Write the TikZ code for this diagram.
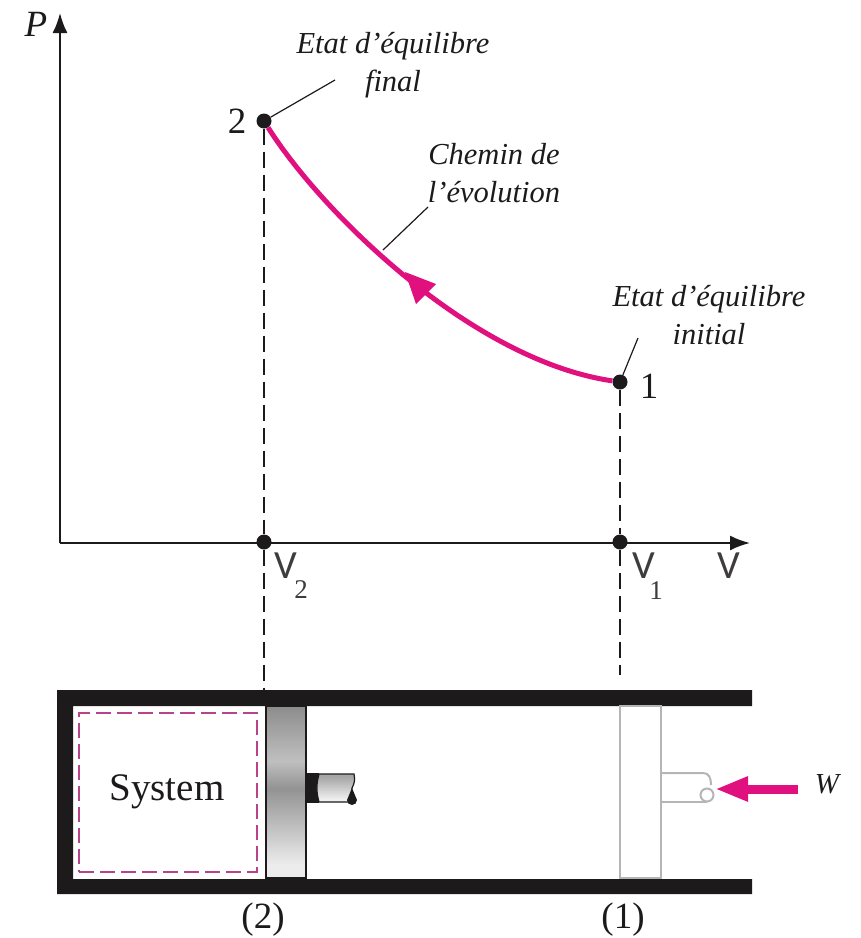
\documentclass[tikz,border=0pt]{standalone}
\usepackage{fontspec}
\setmainfont{Liberation Serif}
\newfontfamily\vfont{Carlito}
\usetikzlibrary{arrows.meta}
\definecolor{mag}{HTML}{E0107F}
\definecolor{dashmag}{HTML}{B8428C}
\definecolor{ink}{HTML}{1C1A1B}
\definecolor{pale}{HTML}{B5B5B5}
\pgfdeclareverticalshading{pistonshade}{100bp}{
  color(0bp)=(gray!15); color(25bp)=(gray!15); color(29bp)=(gray!15);
  color(51bp)=(gray!85); color(59bp)=(gray!50); color(75bp)=(gray!90); color(100bp)=(gray!90)}
\pgfdeclareverticalshading{rodshade}{100bp}{
  color(0bp)=(gray!12); color(30bp)=(gray!12); color(70bp)=(gray!70); color(100bp)=(gray!70)}
\tikzset{
  axisline/.style={draw=ink,line width=1.9pt,-{Latex[length=20pt,width=15pt]}},
  leader/.style={draw=ink,line width=1.2pt},
  guide/.style={draw=ink,line width=1.2pt,dash pattern=on 16pt off 7pt},
  dotn/.style={circle,fill=ink,inner sep=0pt,minimum size=15pt},
  note/.style={font=\fontsize{30.5}{37.5}\selectfont\itshape,align=center,text=ink,inner sep=0pt},
  num/.style={font=\fontsize{37}{40}\selectfont,text=ink,inner sep=0pt},
  vlab/.style={font=\fontsize{40}{42}\selectfont\vfont,text=ink!85,inner sep=0pt},
  sub/.style={font=\fontsize{27}{28}\selectfont,text=ink!85,inner sep=0pt},
  wall/.style={fill=ink,draw=none},
  oldpart/.style={draw=pale,line width=2pt},
}
\begin{document}
\begin{tikzpicture}[x=1pt,y=-1pt]
\useasboundingbox (0,0) rectangle (861,938);
% points
\coordinate (origin) at (60,543);
\coordinate (ytip) at (60,13);
\coordinate (xtip) at (750,543);
\node[dotn] (p2) at (264,121) {};
\node[dotn] (p1) at (620,382) {};
\node[dotn] (v2) at (264,542) {};
\node[dotn] (v1) at (620,542) {};
\coordinate (cyl2) at (264,690);
\coordinate (cyl1) at (620,675);
% axes
\draw[axisline] (origin) -- (ytip);
\draw[axisline] (origin) -- (xtip);
% guides
\draw[guide] (p2) -- (v2);
\draw[guide] (v2) -- (cyl2);
\draw[guide] (p1) -- (v1);
\draw[guide] (v1) -- (cyl1);
% process curve
\draw[mag,line width=5pt] (p1) .. controls (470,360) and (320,210) .. (p2);
\coordinate (tipA) at (405,272);
\fill[mag] (tipA) -- (436,284) -- (416,304) -- cycle;
% labels
\node[font=\fontsize{37}{40}\selectfont\itshape,text=ink,inner sep=0pt] (lP) at (36,24) {P};
\node[num] (l2) at (237,121) {2};
\node[num] (l1) at (649,386) {1};
\node[note] (nfinal) at (393,65) {Etat d'équilibre\\final};
\node[note] (npath) at (494,173) {Chemin de\\l'évolution};
\node[note] (ninit) at (709,315) {Etat d'équilibre\\initial};
\coordinate (a2) at (335,80);
\coordinate (ap) at (428,207);
\coordinate (bp) at (383,250);
\coordinate (a1) at (638,338);
\draw[leader] (p2) -- (a2);
\draw[leader] (bp) -- (ap);
\draw[leader] (p1) -- (a1);
\node[vlab] (lV2) at (286,566) {V};
\node[sub] (s2) at (301,590) {2};
\node[vlab] (lV1) at (644,566) {V};
\node[sub] (s1) at (656,591) {1};
\node[vlab] (lV) at (729,566) {V};
% cylinder
\fill[wall] (57,690) -- (752,690) -- (752,706) -- (73,706) -- (73,879) -- (752,879) -- (752,894) -- (57,894) -- cycle;
\node[draw=dashmag,line width=1.8pt,dash pattern=on 15pt off 6pt,minimum width=178pt,minimum height=159pt,inner sep=0pt] (sysbox) at (168,792.5) {};
\node[font=\fontsize{39}{42}\selectfont,text=ink,inner sep=0pt] (sys) at (167,792) {System};
% piston 2
\draw[ink,line width=1.8pt,shading=pistonshade] (266,706) rectangle (306,878);
\fill[ink] (307,773) rectangle (319,803);
\draw[ink,line width=1.2pt,shading=rodshade] (319,774) -- (354,774) to[bend left=20] (352,788) -- (350,802) -- (319,802) to[bend left=15] (319,774);
\fill[ink] (352,788) -- (357,800) arc[start angle=0,end angle=180,radius=5] -- cycle;
% piston 1
\draw[oldpart] (620,706) rectangle (661,878);
\draw[oldpart] (661,773) -- (703,773) .. controls (709,773) and (711,778) .. (711,785);
\draw[oldpart] (661,802) -- (707,802);
\draw[oldpart] (707,795) circle[radius=6.5];
% work arrow
\coordinate (ws) at (798,789);
\coordinate (we) at (715,789);
\draw[mag,line width=9pt,-{Triangle[length=33pt,width=23pt]}] (ws) -- (we);
\node[font=\fontsize{29}{30}\selectfont\itshape,text=ink,inner sep=0pt] (lW) at (827,784) {W};
\node[num] (c2) at (263,920) {(2)};
\node[num] (c1) at (623,920) {(1)};
\end{tikzpicture}
\end{document}
